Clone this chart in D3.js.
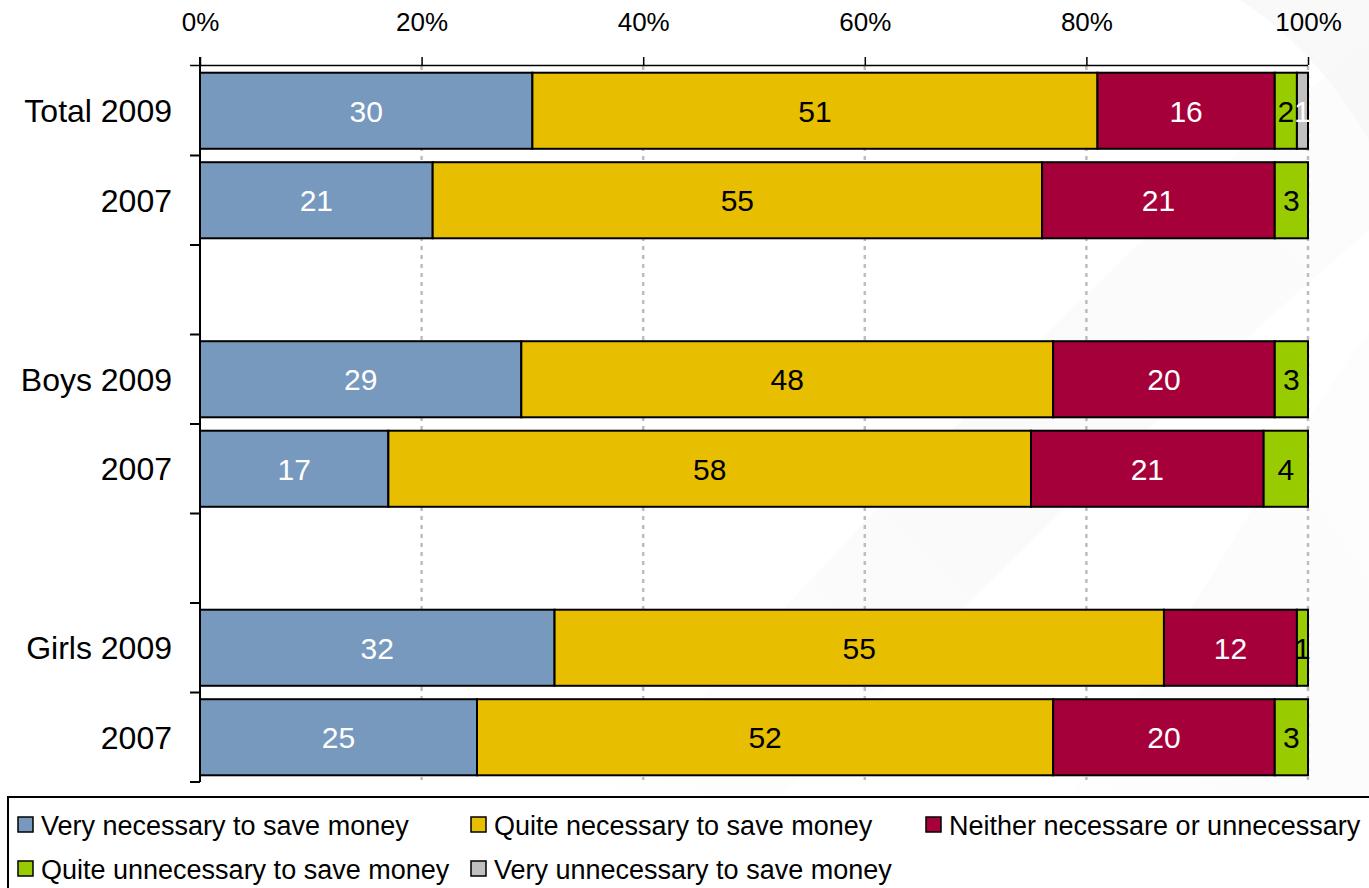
<!DOCTYPE html>
<html>
<head>
<meta charset="utf-8">
<script src="https://cdn.jsdelivr.net/npm/d3@7"></script>
<style>
  html, body { margin: 0; padding: 0; background: #fff; }
  svg { display: block; font-family: "Liberation Sans", Arial, sans-serif; }
</style>
</head>
<body>
<svg id="chart" width="1369" height="888"></svg>
<script>
// ---- data ----
const categories = ["Total 2009", "2007", "", "Boys 2009", "2007", "", "Girls 2009", "2007"];
const seriesNames = [
  "Very necessary to save money",
  "Quite necessary to save money",
  "Neither necessare or unnecessary",
  "Quite unnecessary to save money",
  "Very unnecessary to save money"
];
const veryNecessary    = [30, 21, null, 29, 17, null, 32, 25];
const quiteNecessary   = [51, 55, null, 48, 58, null, 55, 52];
const neither          = [16, 21, null, 20, 21, null, 12, 20];
const quiteUnnecessary = [2, 3, null, 3, 4, null, 1, 3];
const veryUnnecessary  = [1, 0, null, 0, 0, null, 0, 0];
const tickValues = [0, 20, 40, 60, 80, 100];
const tickLabels = ["0%", "20%", "40%", "60%", "80%", "100%"];

const seriesColors = ["#7799BD", "#E8BE00", "#A6003A", "#99CC00", "#C0C0C0"];
const labelColors  = ["#ffffff", "#000000", "#ffffff", "#000000", "#ffffff"];

// ---- build table ----
const seriesArrays = [veryNecessary, quiteNecessary, neither, quiteUnnecessary, veryUnnecessary];
const table = categories.map((c, i) => {
  const row = { idx: i, label: c, empty: veryNecessary[i] === null };
  seriesNames.forEach((s, j) => row[s] = seriesArrays[j][i] || 0);
  return row;
});

const svg = d3.select("#chart");

// faint background swoosh
const defs = svg.append("defs");
const g1 = defs.append("linearGradient").attr("id", "sw1").attr("x1", "0").attr("y1", "1").attr("x2", "1").attr("y2", "0");
g1.append("stop").attr("offset", "0").attr("stop-color", "#f6f6f6").attr("stop-opacity", 0);
g1.append("stop").attr("offset", "0.5").attr("stop-color", "#f4f4f4").attr("stop-opacity", 0.8);
g1.append("stop").attr("offset", "1").attr("stop-color", "#f6f6f6").attr("stop-opacity", 0.5);
svg.append("path")
  .attr("d", "M520,888 C800,600 1050,300 1369,40 L1369,230 C1150,420 900,660 700,888 Z")
  .attr("fill", "url(#sw1)").attr("opacity", 0.6);
svg.append("path")
  .attr("d", "M1000,888 C1150,700 1260,480 1369,330 L1369,888 Z")
  .attr("fill", "url(#sw1)").attr("opacity", 0.4);
svg.append("path")
  .attr("d", "M1240,0 C1300,40 1340,90 1369,140 L1369,0 Z")
  .attr("fill", "#f5f5f5").attr("opacity", 0.6);

const x = d3.scaleLinear().domain([0, 100]).range([200, 1308]);
const y = d3.scaleBand().domain(d3.range(categories.length)).range([66, 782]).paddingInner(0.15).paddingOuter(0.075);

// gridlines
svg.append("g").selectAll("line")
  .data(tickValues.slice(1))
  .join("line")
  .attr("x1", d => x(d)).attr("x2", d => x(d))
  .attr("y1", 66).attr("y2", 780)
  .attr("stroke", "#bdbdbd").attr("stroke-width", 2.5)
  .attr("stroke-dasharray", "4,5");

// stacked bars
const stack = d3.stack().keys(seriesNames);
const stacked = stack(table.filter(d => !d.empty));

const layers = svg.append("g").selectAll("g")
  .data(stacked)
  .join("g")
  .attr("fill", (d, i) => seriesColors[i]);

layers.selectAll("rect")
  .data(d => d.filter(p => p[1] - p[0] > 0))
  .join("rect")
  .attr("x", p => x(p[0]))
  .attr("width", p => x(p[1]) - x(p[0]))
  .attr("y", p => y(p.data.idx))
  .attr("height", y.bandwidth())
  .attr("stroke", "#000").attr("stroke-width", 2);

// value labels
stacked.forEach((layer, i) => {
  svg.append("g").selectAll("text")
    .data(layer.filter(p => p[1] - p[0] > 0))
    .join("text")
    .attr("x", p => (x(p[0]) + x(p[1])) / 2)
    .attr("y", p => y(p.data.idx) + y.bandwidth() / 2)
    .attr("dy", "0.36em")
    .attr("text-anchor", "middle")
    .attr("font-size", 30)
    .attr("fill", labelColors[i])
    .text(p => p[1] - p[0]);
});

// top axis
const xAxis = d3.axisTop(x).tickValues(tickValues).tickFormat((d, i) => tickLabels[i]).tickSize(8).tickSizeOuter(0);
const gx = svg.append("g").attr("transform", "translate(0,65)").call(xAxis);
gx.select(".domain").attr("stroke", "#000").attr("stroke-width", 1.5).attr("d", "M190,0.5H1308");
gx.selectAll(".tick line").attr("stroke", "#000").attr("stroke-width", 1.5);
gx.selectAll(".tick text").attr("font-size", 26).attr("fill", "#000").attr("font-family", "Liberation Sans, Arial, sans-serif").attr("dy", 0).attr("y", -34);

// left axis line + boundary ticks
const yBounds = d3.range(categories.length + 1).map(i => 66 + i * (782 - 66) / categories.length);
svg.append("line").attr("x1", 200).attr("x2", 200).attr("y1", 57).attr("y2", 782)
  .attr("stroke", "#000").attr("stroke-width", 2);
svg.append("g").selectAll("line").data(yBounds.slice(1)).join("line")
  .attr("x1", 190).attr("x2", 200).attr("y1", d => d).attr("y2", d => d)
  .attr("stroke", "#000").attr("stroke-width", 2);

// category labels
svg.append("g").selectAll("text")
  .data(table)
  .join("text")
  .attr("x", 172)
  .attr("y", d => y(d.idx) + y.bandwidth() / 2)
  .attr("dy", "0.36em")
  .attr("text-anchor", "end")
  .attr("font-size", 32)
  .attr("fill", "#000")
  .text(d => d.label);

// legend
svg.append("rect").attr("x", 8).attr("y", 797).attr("width", 1380).attr("height", 120)
  .attr("fill", "#fff").attr("stroke", "#000").attr("stroke-width", 2);
const legendPos = [[18, 825], [471, 825], [926, 825], [18, 869], [471, 869]];
const lg = svg.append("g").selectAll("g").data(seriesNames).join("g")
  .attr("transform", (d, i) => `translate(${legendPos[i][0]},${legendPos[i][1]})`);
lg.append("rect").attr("x", 0).attr("y", -8).attr("width", 15).attr("height", 15)
  .attr("fill", (d, i) => seriesColors[i]).attr("stroke", "#000").attr("stroke-width", 1.5);
lg.append("text").attr("x", 23).attr("y", 0).attr("dy", "0.36em")
  .attr("font-size", 27).attr("fill", "#000").text(d => d);
</script>
</body>
</html>
